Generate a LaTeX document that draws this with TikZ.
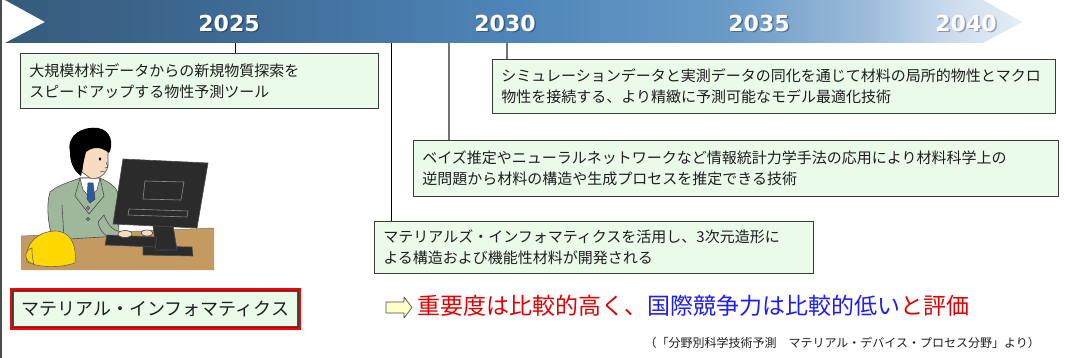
\documentclass[tikz,border=0pt]{standalone}
\usepackage{fontspec}
\newfontfamily\jp{Noto Sans CJK JP}
\newfontfamily\yearfont{DejaVu Sans}
\definecolor{boxFill}{HTML}{EBFBEA}
\definecolor{boxLine}{HTML}{3A3A3A}
\definecolor{txt}{HTML}{1E1E1E}
\definecolor{evalRed}{HTML}{E00000}
\definecolor{evalBlue}{HTML}{1E1EF0}
\definecolor{suit}{HTML}{9FB89C}
\definecolor{skin}{HTML}{F8DCBF}
\definecolor{desk}{HTML}{C49A60}
\definecolor{screen}{HTML}{2B2B2B}
\definecolor{helmet}{HTML}{FFD800}
\definecolor{arrowFill}{HTML}{FFFFC8}
% blue ramp of the timeline (the 25bp..75bp band spans the arrow)
\pgfdeclarehorizontalshading{timeline}{100bp}{
  rgb(0bp)=(0.212,0.357,0.486);
  rgb(25bp)=(0.212,0.357,0.486);
  rgb(35bp)=(0.240,0.410,0.570);
  rgb(50bp)=(0.306,0.522,0.722);
  rgb(61bp)=(0.420,0.610,0.780);
  rgb(67.5bp)=(0.620,0.740,0.860);
  rgb(71.5bp)=(0.800,0.860,0.930);
  rgb(75bp)=(0.900,0.930,0.960);
  rgb(100bp)=(0.900,0.930,0.960)}
\tikzset{
  infobox/.style={draw=boxLine, fill=boxFill, line width=0.8pt, anchor=north west,
    inner xsep=9pt, inner ysep=0pt, align=left, text=txt,
    font=\jp\fontsize{15}{21}\selectfont},
  year/.style={font=\yearfont\bfseries\fontsize{22}{22}\selectfont, text=white},
  yearshadow/.style={font=\yearfont\bfseries\fontsize{22}{22}\selectfont, text=black, opacity=0.3},
  thinlink/.style={draw=black, line width=0.8pt},
  greylink/.style={draw=black!55, line width=1.6pt},
  outline/.style={draw=black!70, line width=0.6pt, line join=round}
}
\begin{document}
\begin{tikzpicture}[x=1pt, y=-1pt]
\useasboundingbox (0,0) rectangle (1065,358);
\fill[white] (0,0) rectangle (1065,358);

% left margin rule
\draw[black!70, line width=1.4pt] (1,0) -- (1,358);

% timeline arrow
\shade[shading=timeline]
  (5,0) -- (983,0) -- (1022,22) -- (983,43) -- (5,43) -- (45,22) -- cycle;

% years
\foreach \yx/\yr in {229/2025, 505/2030, 759/2035, 966/2040}{
  \node[yearshadow] at (\yx+1.5,24.5) {\yr};
  \node[year] (y\yr) at (\yx,23) {\yr};
}

% anchor points on the lower edge of the timeline
\coordinate (c1) at (235,43);
\coordinate (c2) at (391,43);
\coordinate (c3) at (449,43);
\coordinate (c4) at (507,43);

% forecast boxes
\node[infobox, minimum width=358pt, minimum height=55pt, text width=340pt] (b1) at (20,53)
  {大規模材料データからの新規物質探索を\\スピードアップする物性予測ツール};
\node[infobox, minimum width=563pt, minimum height=54pt, text width=545pt] (b2) at (492,59)
  {シミュレーションデータと実測データの同化を通じて材料の局所的物性とマクロ\\物性を接続する、より精緻に予測可能なモデル最適化技術};
\node[infobox, minimum width=645pt, minimum height=56pt, text width=627pt] (b3) at (413,140)
  {ベイズ推定やニューラルネットワークなど情報統計力学手法の応用により材料科学上の\\逆問題から材料の構造や生成プロセスを推定できる技術};
\node[infobox, minimum width=439pt, minimum height=52pt, text width=421pt] (b4) at (374,221)
  {マテリアルズ・インフォマティクスを活用し、3次元造形に\\よる構造および機能性材料が開発される};

% connectors from the timeline to the boxes
\draw[thinlink] (c1) -- (c1 |- b1.north);
\draw[thinlink] (c2) -- (c2 |- b4.north);
\draw[greylink] (c3) -- (c3 |- b3.north);
\draw[greylink] (c4) -- (c4 |- b2.north);

% engineer at a computer
\begin{scope}
  % desk
  \fill[desk] (21,236) -- (214,228) -- (214,270) -- (21,270) -- cycle;
  \draw[black!55, line width=0.5pt] (21,236) -- (214,228);
  % body
  \path[outline, fill=suit] (50,192) .. controls (58,185) and (70,182) .. (80,178) -- (100,178)
    .. controls (108,182) and (115,185) .. (118,193) -- (119,236) -- (53,240)
    .. controls (48,225) and (46,205) .. (50,192) -- cycle;
  \draw[outline] (62,205) -- (64,238);
  % collar and tie
  \path[outline, fill=white] (80,178) -- (100,178) -- (97,190) -- (90,197) -- (83,190) -- cycle;
  \path[outline, fill={rgb,255:red,42;green,90;blue,160}] (88,183) -- (93,183) -- (95,199) -- (90,203) -- (87,199) -- cycle;
  % lapels
  \draw[outline] (80,178) -- (75,196) -- (89,214) -- (104,196) -- (100,178);
  % buttons
  \path[outline, fill=suit!80!black] (88,208) circle (1.8);
  \path[outline, fill=suit!80!black] (88,219) circle (1.8);
  % neck and face
  \path[outline, fill=skin] (84,150) .. controls (90,145) and (102,145) .. (108,150) -- (108,166)
    .. controls (106,175) and (98,180) .. (90,178) -- (82,172) -- cycle;
  % hair
  \fill[black] (70,152) .. controls (66,134) and (84,126) .. (98,128) .. controls (111,130) and (114,144) .. (109,153)
    .. controls (101,146) and (92,147) .. (86,152) -- (84,160) -- (81,176)
    .. controls (73,170) and (70,162) .. (70,152) -- cycle;
  % eye, nose, mouth
  \fill[black] (100,159) ellipse (1.3 and 1.8);
  \draw[black!70, line width=0.5pt] (106,162) -- (108,167) -- (105,168);
  \draw[black!70, line width=0.5pt] (100,172) -- (105,171);
  % sleeve
  \path[outline, fill=suit] (104,215) .. controls (108,226) and (114,232) .. (124,232) -- (124,240) .. controls (110,241) and (100,234) .. (98,222) -- cycle;
  % monitor stand and base
  \path[outline, fill=screen] (143,246) -- (192,247) -- (193,256) -- (143,255) -- cycle;
  \path[outline, fill=screen] (152,218) -- (172,219) -- (177,250) -- (156,250) -- cycle;
  % monitor
  \path[outline, fill=screen] (123,159) -- (208,163) -- (197,228) -- (113,224) -- cycle;
  \draw[black!45, line width=0.6pt] (145,181) -- (184,182) -- (181,200) -- (143,199) -- cycle;
  \draw[black!45, line width=0.6pt] (129,209) -- (188,211) -- (187,217) -- (128,215) -- cycle;
  % keyboard
  \path[outline, fill=screen] (107,235) -- (157,237) -- (155,247) -- (105,245) -- cycle;
  % hands
  \path[outline, fill=skin] (125,234) ellipse (7 and 3.5);
  \path[outline, fill=skin] (147,233) ellipse (6 and 3);
  % helmet
  \path[draw=black!60, line width=0.6pt, fill=helmet] (27,262) .. controls (24,242) and (40,231) .. (55,231)
    .. controls (70,231) and (77,244) .. (75,263) .. controls (60,268) and (40,268) .. (27,262) -- cycle;
  \path[draw=black!60, line width=0.6pt, fill=helmet] (32,248) .. controls (24,250) and (23,262) .. (34,264)
    .. controls (32,258) and (32,252) .. (32,248) -- cycle;
\end{scope}

% field name box
\node[draw=red, line width=3.5pt, fill=boxFill, anchor=north west, minimum width=287pt, minimum height=38pt,
  inner sep=0pt, font=\jp\fontsize{18}{20}\selectfont, text=txt] (rb) at (10,288) {マテリアル・インフォマティクス};
\draw[boxLine, line width=0.8pt] ([shift={(2.3,2.3)}]rb.north west) rectangle ([shift={(-2.3,-2.3)}]rb.south east);

% evaluation
\coordinate (ev) at (417,306);
\path[draw=black!70, line width=0.7pt, fill=arrowFill, line join=round]
  (386,302) -- (404,302) -- (404,297) -- (412,307.5) -- (404,318) -- (404,313) -- (386,313) -- cycle;
\node[anchor=west, inner sep=0pt, font=\jp\fontsize{23}{25}\selectfont] (eval) at (ev)
  {\textcolor{evalRed}{重要度は比較的高く、}\textcolor{evalBlue}{国際競争力は比較的低い}\textcolor{evalRed}{と評価}};

% source
\node[anchor=east, inner sep=0pt, font=\jp\fontsize{12}{14}\selectfont, text=txt] (src) at (1040,343)
  {（「分野別科学技術予測　マテリアル・デバイス・プロセス分野」より）};
\end{tikzpicture}
\end{document}
